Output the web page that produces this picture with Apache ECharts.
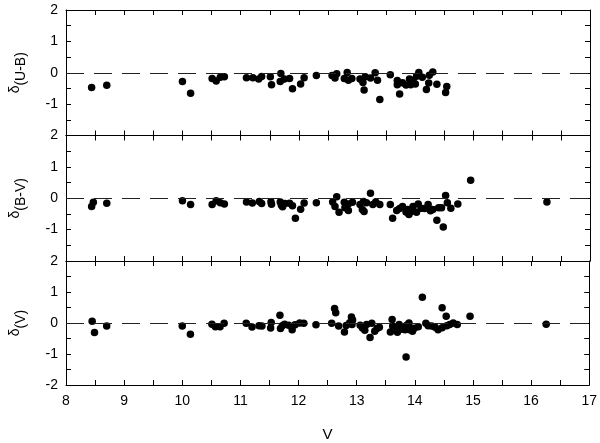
<!DOCTYPE html>
<html><head><meta charset="utf-8">
<script src="https://cdn.jsdelivr.net/npm/echarts@6.0.0/dist/echarts.min.js"></script>
<style>html,body{margin:0;padding:0;background:#fff}#c{width:600px;height:443px}</style>
</head><body><div id="c"></div>
<script>
// Panel subscripts (y-axis names are δ with these subscripts)
const panelSubs = ['(U-B)', '(B-V)', '(V)'];
const xTitle = 'V';
const xMin = 8, xMax = 17;
const yMin = -2, yMax = 2;

// [V, δ(U-B)]
const dUB = [[8.44,-0.47],[8.70,-0.40],[10.00,-0.28],[10.14,-0.65],[10.51,-0.18],[10.58,-0.26],[10.65,-0.14],[10.72,-0.13],[11.10,-0.16],[11.21,-0.16],[11.31,-0.20],[11.36,-0.12],[11.51,-0.13],[11.53,-0.38],[11.69,-0.02],[11.68,-0.28],[11.75,-0.20],[11.84,-0.18],[11.89,-0.51],[12.03,-0.36],[12.09,-0.16],[12.30,-0.09],[12.57,-0.09],[12.62,-0.17],[12.65,-0.03],[12.78,-0.18],[12.83,0.01],[12.85,-0.24],[12.91,-0.18],[13.05,-0.20],[13.10,-0.31],[13.12,-0.55],[13.14,-0.13],[13.23,-0.17],[13.31,0.0],[13.35,-0.24],[13.39,-0.85],[13.57,-0.06],[13.69,-0.25],[13.69,-0.38],[13.73,-0.68],[13.78,-0.32],[13.84,-0.39],[13.90,-0.20],[13.92,-0.38],[13.96,-0.25],[14.00,-0.36],[14.02,-0.11],[14.06,0.01],[14.12,-0.14],[14.19,-0.53],[14.23,-0.33],[14.24,-0.08],[14.30,0.02],[14.37,-0.37],[14.52,-0.63],[14.54,-0.44]];

// [V, δ(B-V)]
const dBV = [[8.44,-0.26],[8.47,-0.13],[8.70,-0.16],[10.00,-0.08],[10.14,-0.20],[10.51,-0.20],[10.58,-0.08],[10.65,-0.14],[10.72,-0.18],[11.10,-0.12],[11.20,-0.15],[11.32,-0.10],[11.36,-0.17],[11.52,-0.11],[11.53,-0.19],[11.68,-0.12],[11.70,-0.22],[11.72,-0.27],[11.76,-0.17],[11.84,-0.16],[11.89,-0.24],[11.94,-0.64],[12.03,-0.35],[12.09,-0.15],[12.30,-0.14],[12.58,-0.12],[12.62,-0.26],[12.65,0.05],[12.69,-0.45],[12.78,-0.13],[12.79,-0.30],[12.85,-0.18],[12.85,-0.39],[12.92,-0.13],[13.05,-0.20],[13.09,-0.36],[13.11,-0.10],[13.12,-0.42],[13.16,-0.14],[13.23,0.16],[13.27,-0.20],[13.32,-0.12],[13.39,-0.20],[13.57,-0.20],[13.61,-0.64],[13.68,-0.39],[13.73,-0.33],[13.78,-0.26],[13.84,-0.44],[13.87,-0.36],[13.89,-0.52],[13.93,-0.42],[13.96,-0.26],[14.02,-0.45],[14.05,-0.18],[14.10,-0.32],[14.16,-0.33],[14.22,-0.20],[14.26,-0.40],[14.30,-0.36],[14.37,-0.70],[14.40,-0.30],[14.45,-0.30],[14.48,-0.92],[14.52,0.09],[14.55,-0.14],[14.61,-0.32],[14.73,-0.18],[14.95,0.57],[16.26,-0.12]];

// [V, δ(V)]
const dV = [[8.45,0.06],[8.49,-0.31],[8.70,-0.10],[10.00,-0.10],[10.14,-0.36],[10.51,-0.04],[10.57,-0.12],[10.65,-0.12],[10.72,-0.01],[11.10,-0.01],[11.20,-0.13],[11.32,-0.09],[11.37,-0.10],[11.52,-0.16],[11.53,0.02],[11.68,0.25],[11.69,-0.18],[11.72,-0.09],[11.76,-0.04],[11.83,-0.07],[11.89,-0.22],[11.94,-0.06],[12.02,0.0],[12.09,-0.01],[12.30,-0.06],[12.57,-0.01],[12.62,0.47],[12.64,0.33],[12.69,-0.10],[12.79,-0.29],[12.82,-0.08],[12.88,0.01],[12.91,0.19],[12.93,0.10],[12.92,-0.05],[13.06,-0.07],[13.10,-0.16],[13.14,-0.23],[13.17,-0.05],[13.23,-0.47],[13.26,-0.01],[13.31,-0.27],[13.35,-0.18],[13.39,-0.14],[13.58,-0.29],[13.61,0.11],[13.62,-0.10],[13.69,-0.17],[13.70,-0.30],[13.73,-0.05],[13.77,-0.20],[13.81,-0.15],[13.83,-0.22],[13.85,-1.10],[13.86,-0.07],[13.89,-0.12],[13.90,0.0],[13.91,-0.22],[13.96,-0.27],[13.99,-0.17],[14.06,-0.12],[14.13,0.83],[14.19,-0.01],[14.23,-0.09],[14.29,-0.10],[14.35,-0.14],[14.40,-0.22],[14.47,0.49],[14.47,-0.15],[14.54,0.22],[14.55,-0.09],[14.60,-0.05],[14.66,0.0],[14.73,-0.05],[14.95,0.22],[16.26,-0.04]];

const panels = [dUB, dBV, dV];
const FONT = 'Liberation Sans, Arial, sans-serif';
const tops = [10, 135.5, 261];
const heights = [125.5, 125.5, 126];

const chart = echarts.init(document.getElementById('c'), null, {renderer: 'canvas'});
const grid = [], xAxis = [], yAxis = [], series = [];
const lineStyle = {color: '#000', width: 1};
const tick = {inside: true, length: 5, lineStyle: {color: '#000', width: 1}};

panels.forEach((data, i) => {
  grid.push({left: 62, right: 10, top: tops[i], height: heights[i]});
  const last = i === panels.length - 1;
  ['bottom', 'top'].forEach(pos => {
    xAxis.push({
      gridIndex: i, type: 'value', min: xMin, max: xMax, interval: 0.5, position: pos,
      axisLine: {show: true, onZero: false, lineStyle},
      axisTick: tick,
      splitLine: {show: false},
      axisLabel: {
        show: last && pos === 'bottom', margin: 9, fontSize: 14, color: '#000', fontFamily: FONT,
        formatter: v => Number.isInteger(v) ? String(v) : ''
      },
      name: (last && pos === 'bottom') ? xTitle : '',
      nameLocation: 'middle', nameGap: 42,
      nameTextStyle: {fontSize: 15, color: '#000', fontFamily: FONT}
    });
  });
  ['left', 'right'].forEach(pos => {
    yAxis.push({
      gridIndex: i, type: 'value', min: yMin, max: yMax, interval: 0.5, position: pos,
      axisLine: {show: true, onZero: false, lineStyle},
      axisTick: tick,
      splitLine: {show: false},
      axisLabel: {
        show: pos === 'left', margin: 8, fontSize: 14, color: '#000', fontFamily: FONT,
        formatter: v => (Number.isInteger(v) && !(v === yMin && !last)) ? String(v) : ''
      },
      name: pos === 'left' ? '{d|δ}{s|' + panelSubs[i] + '}' : '',
      nameLocation: 'middle', nameGap: 38, nameRotate: 90,
      nameTextStyle: {
        color: '#000', fontFamily: FONT, fontSize: 14,
        rich: {
          d: {fontSize: 14, fontFamily: FONT, color: '#000', lineHeight: 20, verticalAlign: 'top'},
          s: {fontSize: 14, fontFamily: FONT, color: '#000', lineHeight: 20, verticalAlign: 'bottom'}
        }
      }
    });
  });
  series.push({
    type: 'scatter', xAxisIndex: 2 * i, yAxisIndex: 2 * i, data,
    symbol: 'circle', symbolSize: 7.5, itemStyle: {color: '#000', opacity: 1},
    markLine: {
      silent: true, symbol: 'none', label: {show: false},
      lineStyle: {color: '#222', width: 1.2, type: [18, 10]},
      data: [{yAxis: 0}]
    }
  });
});

chart.setOption({animation: false, backgroundColor: '#fff', grid, xAxis, yAxis, series});
</script>
</body></html>
